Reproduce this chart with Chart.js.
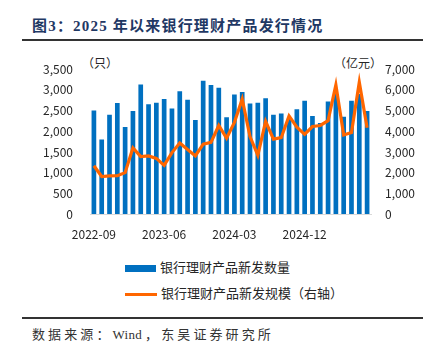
<!DOCTYPE html>
<html>
<head>
<meta charset="utf-8">
<script src="https://cdn.jsdelivr.net/npm/chart.js@4.4.0/dist/chart.umd.min.js"></script>
<style>
  body { margin: 0; width: 423px; height: 349px; background: #fff; position: relative; overflow: hidden; font-family: "Noto Sans CJK SC", sans-serif; }
  .title { position: absolute; left: 32px; top: 14px; font-size: 15px; font-weight: bold; color: #1F3864; letter-spacing: 1.2px; font-family: "Liberation Serif", "Noto Sans CJK SC", serif; white-space: nowrap; }
  .rule { position: absolute; left: 22px; right: 0; height: 2px; background: #333; }
  .unit { position: absolute; font-size: 12px; color: #262626; white-space: nowrap; }
  .legend { position: absolute; left: 125px; font-size: 13px; color: #262626; white-space: nowrap; }
  .legend span.sw { display: inline-block; vertical-align: middle; margin-right: 4px; }
  .source { position: absolute; left: 32px; top: 324px; font-size: 13px; color: #333; letter-spacing: 3.1px; font-family: "Liberation Serif", "Noto Sans CJK SC", serif; white-space: nowrap; }
  .source .w { letter-spacing: 0.3px; margin-right: 3px; }
  #wrap { position: absolute; left: 0; top: 45px; width: 423px; height: 205px; }
</style>
</head>
<body>
<div class="title">图3：2025 年以来银行理财产品发行情况</div>
<div class="rule" style="top:39px"></div>
<div class="unit" style="left:82px; top:54px">（只）</div>
<div class="unit" style="left:334px; top:54px">（亿元）</div>
<div id="wrap"><canvas id="myChart"></canvas></div>
<div class="legend" style="top:257px"><span class="sw" style="width:31px;height:7px;background:#0070C0"></span>银行理财产品新发数量</div>
<div class="legend" style="top:283px"><span class="sw" style="width:32px;height:3px;background:#FF6600"></span>银行理财产品新发规模（右轴）</div>
<div class="rule" style="top:317px"></div>
<div class="source">数据来源：<span class="w">Wind</span>，东吴证券研究所</div>
<script>
const meses = [
  "2022-09", "2022-10", "2022-11", "2022-12", "2023-01", "2023-02", "2023-03", "2023-04", "2023-05",
  "2023-06", "2023-07", "2023-08", "2023-09", "2023-10", "2023-11", "2023-12", "2024-01", "2024-02",
  "2024-03", "2024-04", "2024-05", "2024-06", "2024-07", "2024-08", "2024-09", "2024-10", "2024-11",
  "2024-12", "2025-01", "2025-02", "2025-03", "2025-04", "2025-05", "2025-06", "2025-07", "2025-08",
];
const cantidad = [
  2500, 1800, 2400, 2680, 2100, 2490, 3130, 2650, 2690,
  2780, 2550, 2970, 2760, 2270, 3220, 3120, 3050, 2340,
  2890, 2950, 2670, 2690, 2800, 2400, 2430, 2300, 2530,
  2740, 2370, 2200, 2720, 2900, 2350, 2735, 2900, 2490,
];
const escala = [
  2330, 1810, 1840, 1850, 2000, 3200, 2780, 2810, 2690,
  2350, 2970, 3430, 3120, 2810, 3380, 3460, 4280, 3660,
  4430, 5550, 3740, 2840, 4480, 3620, 3690, 4740, 4200,
  3850, 4230, 4280, 4510, 6240, 3820, 3940, 6370, 4170,
];
const tickFont = { family: "Noto Sans CJK SC", size: 12 };

const ctx = document.getElementById("myChart").getContext("2d");
const myChart = new Chart(ctx, {
  data: {
    labels: meses,
    datasets: [
      {
        type: "line",
        label: "银行理财产品新发规模（右轴）",
        data: escala,
        yAxisID: "y2",
        borderColor: "#FF6600",
        borderWidth: 3.2,
        pointRadius: 0,
        tension: 0,
        order: 0,
      },
      {
        type: "bar",
        label: "银行理财产品新发数量",
        data: cantidad,
        yAxisID: "y",
        backgroundColor: "#0070C0",
        barPercentage: 0.6,
        categoryPercentage: 1,
        order: 1,
      },
    ],
  },
  options: {
    responsive: true,
    maintainAspectRatio: false,
    animation: false,
    layout: { padding: { top: 18, left: 0, right: 0, bottom: 0 } },
    plugins: { legend: { display: false }, tooltip: { enabled: false } },
    scales: {
      x: {
        grid: { display: false },
        border: { color: "#D9D9D9", width: 1 },
        ticks: {
          autoSkip: false,
          maxRotation: 0,
          padding: 5,
          color: "#262626",
          font: tickFont,
          callback: (value, index) => (index % 9 === 0 ? meses[index] : ""),
        },
        afterFit: (scale) => { scale.height = 36; },
      },
      y: {
        position: "left",
        min: 0,
        max: 3500,
        grid: { display: false, drawTicks: false },
        border: { display: false },
        ticks: {
          stepSize: 500,
          padding: 17,
          color: "#262626",
          font: tickFont,
          callback: (v) => v.toLocaleString("en-US"),
        },
        afterFit: (scale) => { scale.width = 90; },
      },
      y2: {
        position: "right",
        min: 0,
        max: 7000,
        grid: { display: false, drawTicks: false },
        border: { display: false },
        ticks: {
          stepSize: 1000,
          padding: 14,
          color: "#262626",
          font: tickFont,
          callback: (v) => v.toLocaleString("en-US"),
        },
        afterFit: (scale) => { scale.width = 52; },
      },
    },
  },
});
</script>
</body>
</html>
